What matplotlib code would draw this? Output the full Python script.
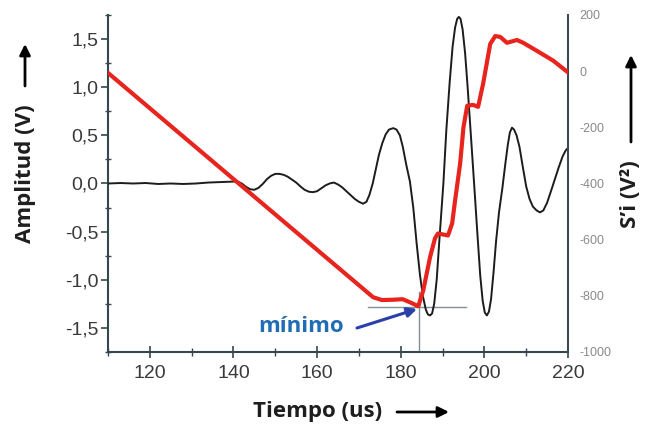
import matplotlib
matplotlib.use("Agg")
import matplotlib.pyplot as plt
from matplotlib.ticker import MultipleLocator, FixedLocator

# ---- data ----
# Black signal: amplitude (V) vs time (us)
t_sig = [110, 113, 116, 119, 122, 125, 128, 131, 134, 137, 140, 141, 142, 143, 144, 145,
         146, 147, 148, 149, 150, 151, 152, 153, 154, 155, 156, 157, 158, 159, 160, 161,
         162, 163, 164, 165, 166, 167, 168, 169, 170, 171, 171.8, 172.5, 173.3, 174,
         174.8, 175.6, 176.4, 177.2, 178.2, 179, 179.8, 180.5, 181.3, 182.2, 183, 183.8,
         184.6, 185.3, 186, 186.5, 187, 187.5, 188, 188.6, 189.3, 190.2, 190.9, 191.7,
         192.4, 193, 193.5, 193.9, 194.3, 194.8, 195.4, 196, 196.7, 197.5, 198.3, 199,
         199.6, 200.1, 200.6, 201.1, 201.6, 202.2, 202.8, 203.5, 204.3, 205, 205.6, 206.1,
         206.6, 207.1, 207.7, 208.4, 209.2, 210, 210.8, 211.6, 212.5, 213.3, 214.1, 215,
         216, 216.9, 217.8, 218.7, 219.4, 220]
amp_sig = [0.0, 0.005, 0.0, 0.005, -0.005, 0.0, -0.005, 0.0, 0.01, 0.015, 0.02, 0.02, 0.0,
           -0.035, -0.06, -0.065, -0.045, -0.005, 0.045, 0.08, 0.10, 0.10, 0.09, 0.07,
           0.04, 0.01, -0.03, -0.065, -0.085, -0.09, -0.08, -0.05, -0.02, 0.0, 0.01,
           -0.01, -0.04, -0.08, -0.12, -0.16, -0.19, -0.21, -0.19, -0.12, 0.0, 0.14,
           0.3, 0.42, 0.51, 0.56, 0.575, 0.56, 0.5, 0.38, 0.2, 0.02, -0.25, -0.62,
           -0.95, -1.17, -1.31, -1.36, -1.37, -1.35, -1.25, -1.0, -0.55, 0.0, 0.55, 1.05,
           1.42, 1.62, 1.71, 1.73, 1.71, 1.6, 1.35, 1.0, 0.55, 0.03, -0.5, -0.95,
           -1.22, -1.34, -1.37, -1.33, -1.2, -0.92, -0.6, -0.3, -0.05, 0.2, 0.4, 0.53,
           0.58, 0.56, 0.5, 0.38, 0.17, -0.03, -0.16, -0.24, -0.28, -0.30, -0.28, -0.2,
           -0.07, 0.05, 0.17, 0.28, 0.34, 0.37]

# Red curve: S'i (V^2) vs time (us)
t_si = [110, 173.4, 175.5, 178, 180.5, 182.5, 184.2, 185.4, 187.0, 188.2, 188.9, 191.3,
        192.3, 193.0, 194.2, 195.0, 195.9, 197.3, 198.5, 199.7, 201.4, 202.6, 203.8,
        205.4, 207.8, 209.3, 212.6, 216.5, 219.8]
si_vals = [-6, -805, -815, -814, -812, -825, -837, -780, -663, -595, -578, -585,
           -542, -460, -330, -200, -123, -120, -127, -45, 97, 125, 122,
           101, 111, 101, 72, 37, -2]

x_ticks = [120, 140, 160, 180, 200, 220]
y_ticks = [-1.5, -1.0, -0.5, 0.0, 0.5, 1.0, 1.5]
y_ticklabels = ["-1,5", "-1,0", "-0,5", "0,0", "0,5", "1,0", "1,5"]
y2_ticks = [-1000, -800, -600, -400, -200, 0, 200]
y2_ticklabels = ["-1000", "-800", "-600", "-400", "-200", "0", "200"]

min_time = 184.4
min_amp = -1.28

W, H = 646, 429
fig = plt.figure(figsize=(W / 100, H / 100), dpi=100)
fig.patch.set_facecolor("white")

def fx(px):
    return px / W

def fy(py):
    return 1 - py / H

ax = fig.add_axes([fx(108), fy(352), (568 - 108) / W, (352 - 15) / H])
spine_col = "#34474f"

ax.plot(t_sig, amp_sig, color="#1c1c1c", lw=1.4, zorder=3, solid_joinstyle="round")

ax.set_xlim(110, 220)
ax.set_ylim(-1.75, 1.75)
ax.xaxis.set_major_locator(FixedLocator(x_ticks))
ax.xaxis.set_minor_locator(MultipleLocator(10))
ax.set_yticks(y_ticks)
ax.set_yticklabels(y_ticklabels)
ax.yaxis.set_minor_locator(MultipleLocator(0.25))

for lab in ax.get_xticklabels() + ax.get_yticklabels():
    lab.set_family("Liberation Sans")
ax.tick_params(axis="x", which="major", direction="inout", length=8, width=1.2,
               colors=spine_col, labelcolor="#3a3a3a", labelsize=14, pad=5)
ax.tick_params(axis="x", which="minor", direction="inout", length=6, width=1.0,
               colors=spine_col)
ax.tick_params(axis="y", which="major", direction="out", length=5, width=1.2,
               colors=spine_col, labelcolor="#3a3a3a", labelsize=14, pad=2)
ax.tick_params(axis="y", which="minor", direction="inout", length=5, width=1.0,
               colors=spine_col)

ax.spines["top"].set_visible(False)
ax.spines["right"].set_visible(False)
for s in ("left", "bottom"):
    ax.spines[s].set_color(spine_col)
    ax.spines[s].set_linewidth(1.5)

# annotation lines at the minimum
ax.plot([172.2, 195.6], [min_amp, min_amp], color="#7f9097", lw=1.0, zorder=2)
ax.plot([min_time, min_time], [-1.75, -1.13], color="#7f9097", lw=1.0, zorder=2)

ax2 = ax.twinx()
ax2.plot(t_si, si_vals, color="#e8241e", lw=3.0, solid_joinstyle="round", zorder=4)
ax2.set_ylim(-1000, 200)
ax2.set_yticks(y2_ticks)
ax2.set_yticklabels(y2_ticklabels)
ax2.tick_params(axis="y", length=0, labelsize=9, labelcolor="#8a8a8a", pad=8)
for lab in ax2.get_yticklabels():
    lab.set_family("Liberation Sans")
ax2.spines["top"].set_visible(False)
ax2.spines["left"].set_visible(False)
ax2.spines["bottom"].set_visible(False)
ax2.spines["right"].set_color("#3d4a52")
ax2.spines["right"].set_linewidth(1.5)
ax.set_zorder(ax2.get_zorder() - 1)
ax2.patch.set_visible(False)

# labels
bold = dict(family="Open Sans", fontweight="bold", color="#1e1e1e", fontsize=16)
fig.text(fx(25), fy(174), "Amplitud (V)", rotation=90, ha="center", va="center", **bold)
fig.text(fx(318), fy(411), "Tiempo (us)", ha="center", va="center", **bold)
fig.text(fx(630), fy(194), "S\u2019i (V\u00b2)", rotation=90, ha="center", va="center", **bold)

arrow_kw = dict(arrowstyle="-|>", color="black", lw=2.0, mutation_scale=16, shrinkA=0, shrinkB=0)
fig.add_artist(matplotlib.patches.FancyArrowPatch((fx(25), fy(86)), (fx(25), fy(44)),
                                                  transform=fig.transFigure, **arrow_kw))
fig.add_artist(matplotlib.patches.FancyArrowPatch((fx(397), fy(412)), (fx(449), fy(412)),
                                                  transform=fig.transFigure, **arrow_kw))
fig.add_artist(matplotlib.patches.FancyArrowPatch((fx(631), fy(142)), (fx(631), fy(55)),
                                                  transform=fig.transFigure, **arrow_kw))

# "mínimo" annotation
fig.text(fx(301), fy(326), "mínimo", ha="center", va="center", family="Open Sans",
         fontweight="bold", color="#1f6db4", fontsize=16)
fig.add_artist(matplotlib.patches.FancyArrowPatch((fx(357), fy(328)), (fx(417), fy(309)),
                                                  transform=fig.transFigure,
                                                  arrowstyle="-|>", color="#2b3fa8", lw=2.2,
                                                  mutation_scale=14, shrinkA=0, shrinkB=0))

fig.savefig("out.png", dpi=100, facecolor="white")
